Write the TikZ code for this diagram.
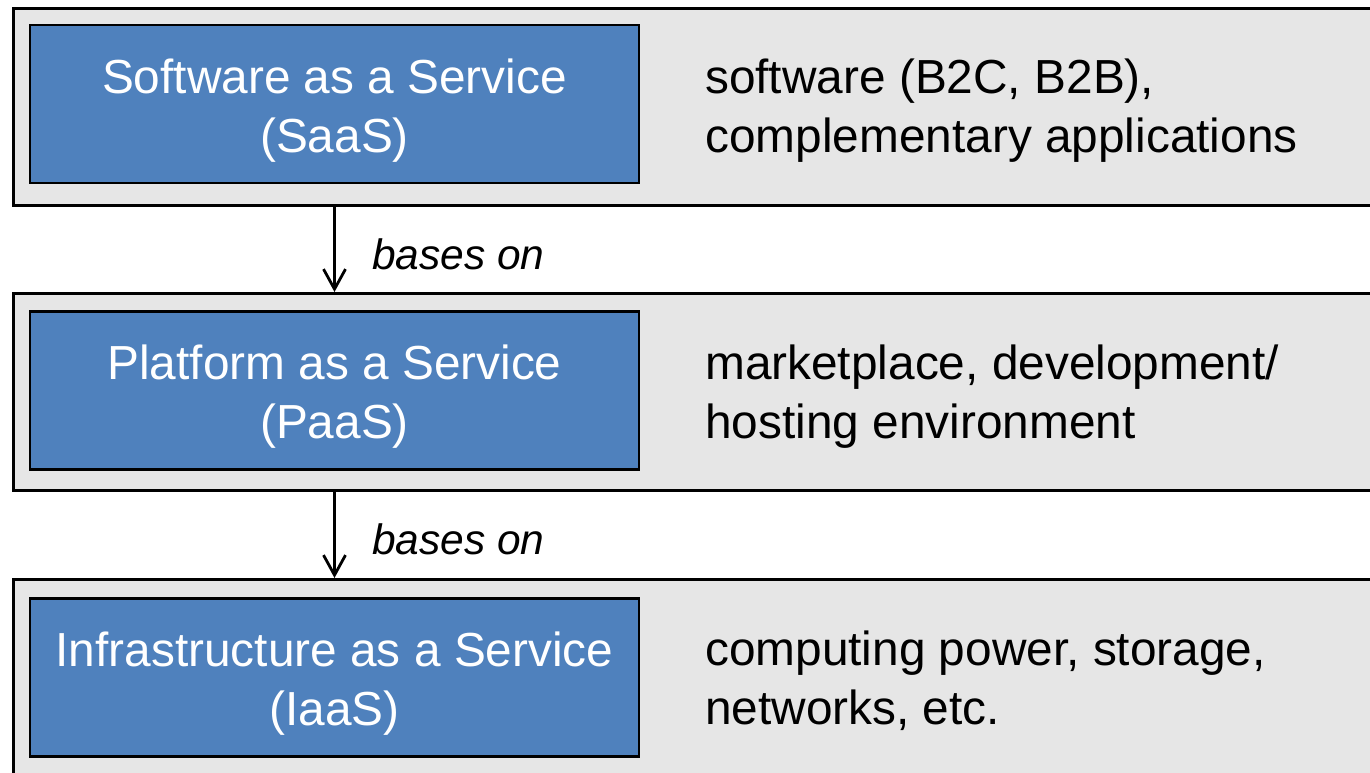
\documentclass[tikz,border=0pt]{standalone}
\usepackage{fontspec}
\setmainfont{Liberation Sans}
\usetikzlibrary{arrows.meta}
\definecolor{layergray}{RGB}{230,230,230}
\definecolor{serviceblue}{RGB}{79,129,189}
\begin{document}
\begin{tikzpicture}[x=1pt,y=-1pt,
  layerbox/.style={draw=black, fill=layergray, line width=2.8pt, rectangle,
    anchor=north west, inner sep=0pt, minimum width=1400pt, minimum height=197pt},
  servicebox/.style={draw=black, fill=serviceblue, line width=2.6pt, rectangle,
    minimum width=609pt, minimum height=158pt, inner sep=0pt},
  servicetext/.style={inner sep=0pt, text=white, align=center,
    font=\fontsize{47.8}{59}\selectfont},
  desc/.style={anchor=west, inner sep=0pt, align=left,
    font=\fontsize{47.8}{59}\selectfont},
  relation/.style={line width=2.8pt, -{Straight Barb[length=20pt,width=22pt,line width=2.8pt]}},
  rellabel/.style={anchor=west, inner sep=0pt,
    font=\fontsize{42.5}{50}\selectfont\itshape}]
  \useasboundingbox (0,0) rectangle (1370,772);
  \clip (0,0) rectangle (1370,772);

  % three stacked layers
  \node[layerbox] (layer1) at (12,7) {};
  \node[layerbox] (layer2) at (12,292) {};
  \node[layerbox, minimum height=260pt] (layer3) at (12,578) {};

  % service models
  \node[servicebox] (saas) at (334.5,104) {};
  \node[servicebox] (paas) at (334.5,390.5) {};
  \node[servicebox] (iaas) at (334.5,677.5) {};
  \node[servicetext] (saastext) at ([yshift=-7pt]saas.center) {Software as a Service\\(SaaS)};
  \node[servicetext] (paastext) at ([yshift=-6pt]paas.center) {Platform as a Service\\(PaaS)};
  \node[servicetext] (iaastext) at ([yshift=-6pt]iaas.center) {Infrastructure as a Service\\(IaaS)};

  % descriptions
  \node[desc] (saasdesc) at (705,111) {software (B2C, B2B),\\complementary applications};
  \node[desc] (paasdesc) at (705,397) {marketplace, development/\\hosting environment};
  \node[desc] (iaasdesc) at (705,681) {computing power, storage,\\networks, etc.};

  % dependencies between layers
  \draw[relation] (saas.south |- layer1.south) -- (saas.south |- layer2.north);
  \draw[relation] (paas.south |- layer2.south) -- (paas.south |- layer3.north);
  \node[rellabel] (rel1label) at (372,254) {bases on};
  \node[rellabel] (rel2label) at (372,539) {bases on};
\end{tikzpicture}
\end{document}
